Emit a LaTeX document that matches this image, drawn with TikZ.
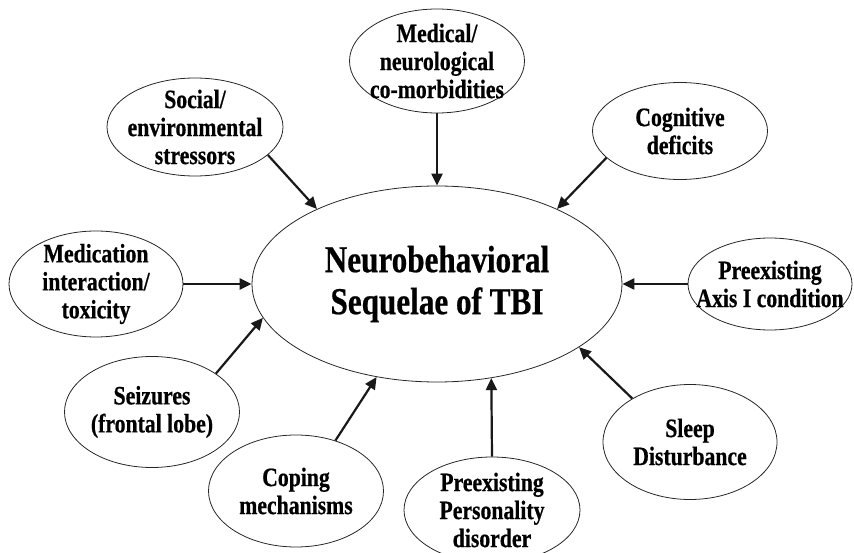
\documentclass[tikz,border=0pt]{standalone}
\usepackage{fontspec}
\newfontfamily\figfont{Liberation Serif}[FakeStretch=0.82, BoldFeatures={FakeBold=0.6}]
\usetikzlibrary{shapes.geometric, arrows.meta}

\begin{document}
\begin{tikzpicture}[
  x=1pt, y=-1pt,
  factor/.style={ellipse, draw=black!85, line width=0.8pt, inner sep=-6pt,
    minimum width=175pt, minimum height=100pt, align=center,
    font=\figfont\bfseries\fontsize{26.5}{28}\selectfont},
  core/.style={ellipse, draw=black!85, line width=0.8pt, inner sep=0pt,
    minimum width=370pt, minimum height=196pt, align=center,
    font=\figfont\bfseries\fontsize{38}{42}\selectfont},
  link/.style={draw=black!90, line width=2.2pt, -{Triangle[length=12pt, width=11pt]}}
]
\useasboundingbox (0,0) rectangle (854,553);

% centre
\node[core] (nbs) at (437,284) {Neurobehavioral\\Sequelae of TBI};

% factors round it
\node[factor, minimum height=104pt] (med) at (437,61) {Medical/\\neurological\\co-morbidities};
\node[factor, minimum width=176pt, minimum height=98pt] (soc) at (195,127) {Social/\\environmental\\stressors};
\node[factor, minimum height=97pt] (cog) at (680,131) {Cognitive\\deficits};
\node[factor, minimum width=174pt, minimum height=106pt] (medi) at (96,284) {Medication\\interaction/\\toxicity};
\node[factor, minimum width=164pt, minimum height=92pt, inner xsep=-16pt] (axis) at (770,284) {Preexisting\\Axis I condition};
\node[factor, minimum height=111pt] (seiz) at (152,412) {Seizures\\(frontal lobe)};
\node[factor, minimum height=112pt] (cope) at (296,491) {Coping\\mechanisms};
\node[factor, minimum width=176pt, minimum height=106pt] (pers) at (492,510) {Preexisting\\Personality\\disorder};
\node[factor, minimum width=174pt, minimum height=115pt] (sleep) at (690,442) {Sleep\\Disturbance};

% arrows
\draw[link] (med.south) -- (nbs.north);
\draw[link] (soc.-21) -- (nbs.148);
\draw[link] (cog.200) -- (nbs.32);
\draw[link] (medi.east) -- (nbs.west);
\draw[link] (axis.west) -- (nbs.east);
\draw[link] (seiz.31) -- (nbs.191);
\draw[link] (cope.52) -- (nbs.237);
\draw[link] (pers.north) -- (nbs.-60);
\draw[link] (sleep.143) -- (nbs.-24);
\end{tikzpicture}
\end{document}
